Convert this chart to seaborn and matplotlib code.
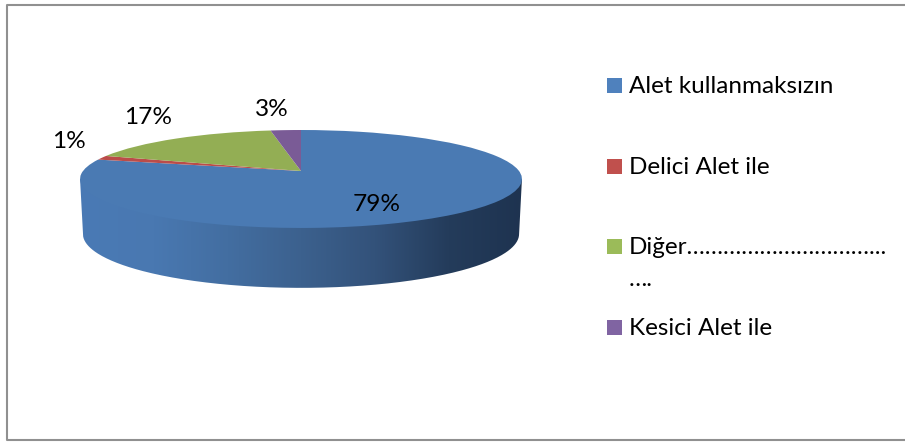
"""Flat-looking 3D pie with a perspective top face and a shaded side wall."""
import numpy as np
import seaborn as sns
import matplotlib
matplotlib.use("Agg")
import matplotlib.pyplot as plt
from matplotlib.colors import LinearSegmentedColormap
from matplotlib.patches import PathPatch, Rectangle
from matplotlib.path import Path
from matplotlib.transforms import Transform

categories = ["Alet kullanmaksızın", "Delici Alet ile", "Diğer" + "…" * 10 + "...\n….", "Kesici Alet ile"]
shares = [79, 1.4, 17, 2.6]

pie_colors = ["#4a7ab3", "#bb4c49", "#93ae54", "#7a5b96"]
legend_colors = ["#4f81bd", "#c0504d", "#9bbb59", "#8064a2"]
side_colors = ["#4a7ab5", "#4978b1", "#436ea1", "#3c618e", "#33527a", "#243c5b", "#1e3350"]

sns.set_theme(style="white")
plt.rcParams["font.family"] = ["Lato", "DejaVu Sans"]


class PieProjection(Transform):
    """Tilts the unit pie, so that the apex sits above the middle of the ellipse."""
    input_dims = 2
    output_dims = 2

    def transform_non_affine(self, values):
        u, v = values[:, 0], values[:, 1]
        w = 1 + 0.163 * v
        return np.column_stack((301 + 218 * u / w, (171 - 19.8 * v) / w))


fig = plt.figure(figsize=(9.05, 4.43), dpi=100)
ax = fig.add_axes([0, 0, 1, 1])

wedges, _ = ax.pie(shares, colors=sns.color_palette(pie_colors), startangle=90, counterclock=False,
                   wedgeprops={"linewidth": 0})
proj = PieProjection()
for wedge in wedges:
    wedge.set_transform(proj + ax.transData)
    wedge.set_zorder(3)

# side wall: lower half of the bottom rim, closed under the top face
t = np.linspace(0, 2 * np.pi, 721)
rim = proj.transform_non_affine(np.column_stack((np.cos(t), np.sin(t))))
left = rim[np.argmin(rim[:, 0])]
right = rim[np.argmax(rim[:, 0])]
low = np.column_stack((301 + (rim[:, 0] - 301) * 0.987, 234 + (rim[:, 1] - 179) * 1.10))
low = low[low[:, 1] >= 234]
low = low[np.argsort(low[:, 0])]
outline = np.vstack(([left], low, [right], [left]))
wall = PathPatch(Path(outline), facecolor="none", edgecolor="none", transform=ax.transData)
ax.add_patch(wall)
cmap = LinearSegmentedColormap.from_list("side", side_colors)
shade = ax.imshow(np.linspace(0, 1, 256)[None, :], cmap=cmap, extent=(80, 522, 288, 170),
                  aspect="auto", zorder=2)
shade.set_clip_path(wall)

ax.set_aspect("auto")
ax.set_xlim(0, 905)
ax.set_ylim(443, 0)
ax.set_axis_off()

# slice labels
label_xy = [(377, 204), (69, 142), (148, 117), (272, 109)]
for share, (x, y) in zip(shares, label_xy):
    ax.text(x, y, f"{share:.0f}%", fontsize=17.6, color="black", ha="center", va="center", zorder=4)

# legend, rows are evenly spaced and the long entry wraps
legend_y = [85, 166, 246, 327]
for name, color, y in zip(categories, legend_colors, legend_y):
    ax.add_patch(Rectangle((607, y - 7.5), 15, 15, facecolor=color, edgecolor="none"))
    for i, line in enumerate(name.split("\n")):
        ax.text(629, y + 8 + i * 32, line, fontsize=17.5, color="black", ha="left", va="baseline")

# chart frame, it runs off the right side of the picture
ax.plot([905, 7, 7, 905], [5, 5, 440, 440], color="#909090", linewidth=1.5, clip_on=False)

fig.savefig("out.png", dpi=100)
